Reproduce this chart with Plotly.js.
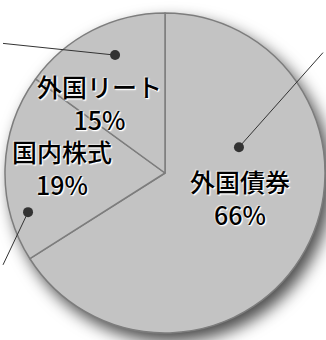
<!DOCTYPE html>
<html>
<head>
<meta charset="utf-8">
<script src="https://cdn.plot.ly/plotly-3.0.1.min.js"></script>
<style>
html,body{margin:0;padding:0;background:#fff;}
#chart{width:326px;height:340px;}
</style>
</head>
<body>
<div id="chart"></div>
<script>
const labels = ['外国債券', '国内株式', '外国リート'];
const values = [66, 19, 15];
// label anchor positions (paper coords) and leader dots
const labelPos = [[0.737, 0.42], [0.19, 0.508], [0.304, 0.70]];
const dotPos = [[0.733, 0.567], [0.086, 0.376], [0.353, 0.838]];
const dotTail = [[100, -98], [-40, 59], [-125, -12]];

const trace = {
  type: 'pie',
  labels: labels,
  values: values,
  sort: false,
  direction: 'clockwise',
  rotation: 0,
  textinfo: 'none',
  hoverinfo: 'none',
  showlegend: false,
  domain: {x: [0.0153, 0.997], y: [0.0206, 0.9618]},
  marker: {colors: ['#c3c3c3', '#c3c3c3', '#c3c3c3'], line: {color: '#7d7d7d', width: 1.5}}
};

const annotations = [];
labels.forEach((l, i) => {
  annotations.push({
    xref: 'paper', yref: 'paper', x: labelPos[i][0], y: labelPos[i][1],
    text: l + '<br>' + values[i] + '%', showarrow: false,
    font: {family: 'Noto Sans CJK JP', size: 25, weight: 500, color: '#000',
           shadow: '1px 1px 0px #fff, 1px 1px 2px #fff, -1px -1px 1px rgba(255,255,255,0.6)'},
    xanchor: 'center', yanchor: 'middle'
  });
  annotations.push({
    xref: 'paper', yref: 'paper', x: dotPos[i][0], y: dotPos[i][1],
    text: ' ', showarrow: true, arrowhead: 6, arrowsize: 2.5, arrowwidth: 1,
    arrowcolor: '#333', ax: dotTail[i][0], ay: dotTail[i][1], standoff: 0
  });
});

const layout = {
  width: 326, height: 340,
  margin: {l: 0, r: 0, t: 0, b: 0},
  paper_bgcolor: 'rgba(0,0,0,0)',
  plot_bgcolor: 'rgba(0,0,0,0)',
  annotations: annotations
};

Plotly.newPlot('chart', [trace], layout, {displayModeBar: false, staticPlot: true}).then(() => {
  const svgs = document.querySelectorAll('#chart .main-svg');
  if (svgs.length) svgs[0].style.filter = 'drop-shadow(6px 8px 8px rgba(0,0,0,0.7))';
});
</script>
</body>
</html>
